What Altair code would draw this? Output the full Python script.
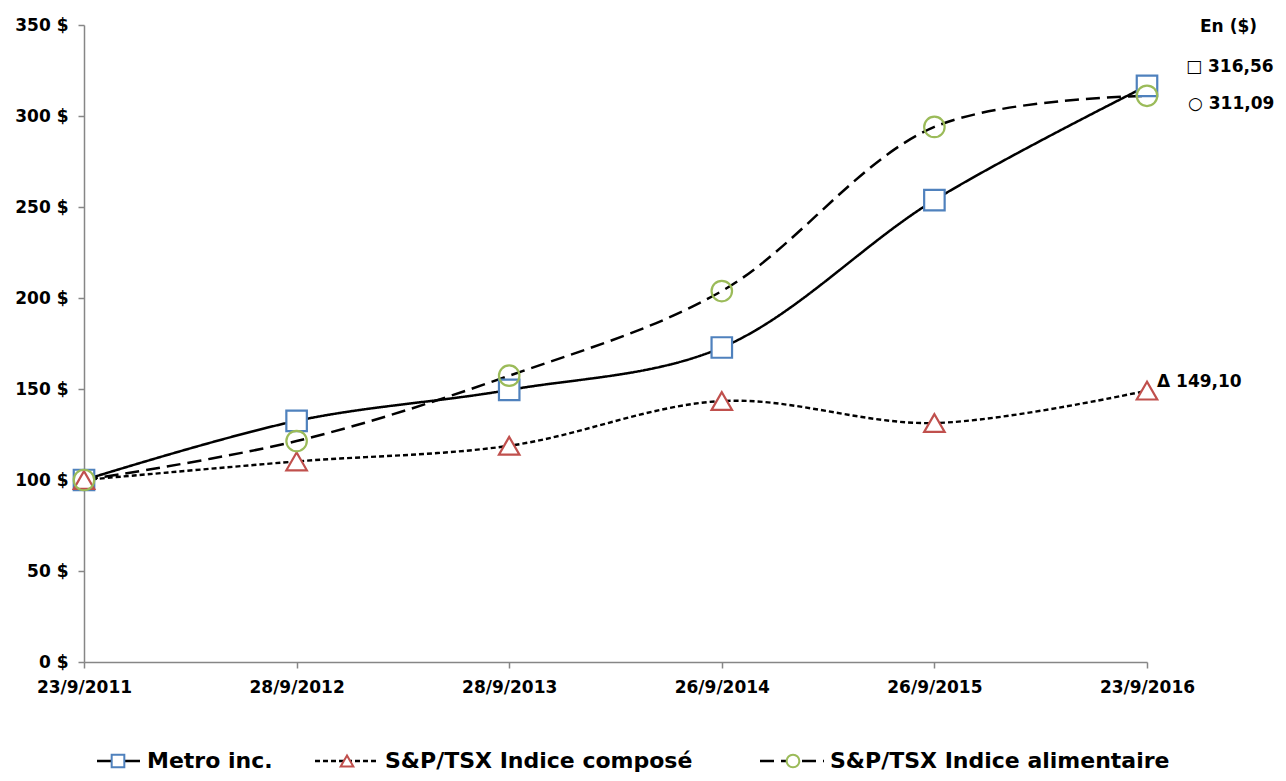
import altair as alt
import pandas as pd

dates = ["23/9/2011", "28/9/2012", "28/9/2013", "26/9/2014", "26/9/2015", "23/9/2016"]
series_names = ["Metro inc.", "S&P/TSX Indice composé", "S&P/TSX Indice alimentaire"]
metro = [100, 132.5, 149.5, 172.8, 253.8, 316.56]
composite = [100, 110.2, 118.8, 143.4, 131.3, 149.10]
food = [100, 121.4, 157.3, 203.8, 294.0, 311.09]
y_ticks = [0, 50, 100, 150, 200, 250, 300, 350]
annot_texts = ["En ($)", "□  316,56", "○  311,09", "Δ 149,10"]

rows = []
for name, vals in zip(series_names, [metro, composite, food]):
    for d, v in zip(dates, vals):
        rows.append({"date": d, "value": v, "series": name})
df = pd.DataFrame(rows)

W, H = 1063, 637
FONT = "DejaVu Sans"
AX = "#868686"

x_enc = alt.X("date:N", sort=dates, scale=alt.Scale(type="point", padding=0),
              axis=alt.Axis(title=None, labelAngle=0, labelFontWeight="bold", labelFontSize=17,
                            labelFont=FONT, labelColor="black", domainColor=AX, tickColor=AX,
                            tickSize=6, domainWidth=1.5, tickWidth=1.5, labelPadding=11))
y_enc = alt.Y("value:Q", scale=alt.Scale(domain=[0, 350], nice=False),
              axis=alt.Axis(title=None, values=y_ticks, labelExpr="datum.value + ' $'",
                            labelFontWeight="bold", labelFontSize=17, labelFont=FONT,
                            labelColor="black", domainColor=AX, tickColor=AX, tickSize=6,
                            domainWidth=1.5, tickWidth=1.5, grid=False, labelPadding=10))

base = alt.Chart(df)


def line_layer(name, dash, sw):
    return base.transform_filter(alt.datum.series == name).mark_line(
        interpolate="catmull-rom", color="black", strokeWidth=sw, strokeDash=dash
    ).encode(x=x_enc, y=y_enc)


def point_layer(name, shape, color, fill):
    kw = dict(shape=shape, size=420, strokeWidth=2.2, stroke=color, opacity=1)
    if fill:
        kw.update(filled=True, fill="white", fillOpacity=1)
    else:
        kw.update(filled=False, fillOpacity=0)
    return base.transform_filter(alt.datum.series == name).mark_point(**kw).encode(x=x_enc, y=y_enc)


lines = [
    line_layer(series_names[0], [1, 0], 2.5),
    line_layer(series_names[1], [5, 3], 2.4),
    line_layer(series_names[2], [14, 7], 2.5),
]
points = [
    point_layer(series_names[0], "square", "#4f81bd", True),
    point_layer(series_names[1], "triangle-up", "#c0504d", True),
    point_layer(series_names[2], "circle", "#9bbb59", False),
]

# annotations at right
annot = []
ann_pos = [(1116, 2, 17), (1102, 42, 17), (1104, 79, 17), (1073, 357, 17)]
for t, (ax_, ay_, fs) in zip(annot_texts, ann_pos):
    annot.append(alt.Chart(pd.DataFrame({"t": [t]})).mark_text(
        align="left", baseline="middle", fontSize=fs, fontWeight="bold", font=FONT, color="black"
    ).encode(text="t:N", x=alt.value(ax_), y=alt.value(ay_)))

# custom legend
leg = []
LY = 736
leg_items = [
    (series_names[0], 13, 56, 34, 63, [1, 0], "square", "#4f81bd"),
    (series_names[1], 231, 295, 263, 301, [5, 3], "triangle-up", "#c0504d"),
    (series_names[2], 676, 740, 709, 746, [14, 7], "circle", "#9bbb59"),
]
for name, x1, x2, mx, tx, dash, shape, col in leg_items:
    dfl = pd.DataFrame({"t": [name]})
    leg.append(alt.Chart(dfl).mark_rule(color="black", strokeWidth=2.4, strokeDash=dash).encode(
        x=alt.value(x1), x2=alt.value(x2), y=alt.value(LY)))
    leg.append(alt.Chart(dfl).mark_point(shape=shape, size=160, filled=(shape != "circle"),
                                         fill="white", stroke=col, strokeWidth=2, opacity=1).encode(
        x=alt.value(mx), y=alt.value(LY)))
    leg.append(alt.Chart(dfl).mark_text(align="left", baseline="middle", fontSize=22, fontWeight="bold",
                                        font=FONT, color="black").encode(
        text="t:N", x=alt.value(tx), y=alt.value(LY)))

chart = alt.layer(*lines, *points, *annot, *leg).properties(
    width=W, height=H,
    autosize=alt.AutoSizeParams(type="none"),
    padding={"left": 76, "top": 17, "right": 131, "bottom": 111},
).configure_view(stroke=None)

chart.save("out.html", embed_options={"renderer": "svg", "actions": False})
